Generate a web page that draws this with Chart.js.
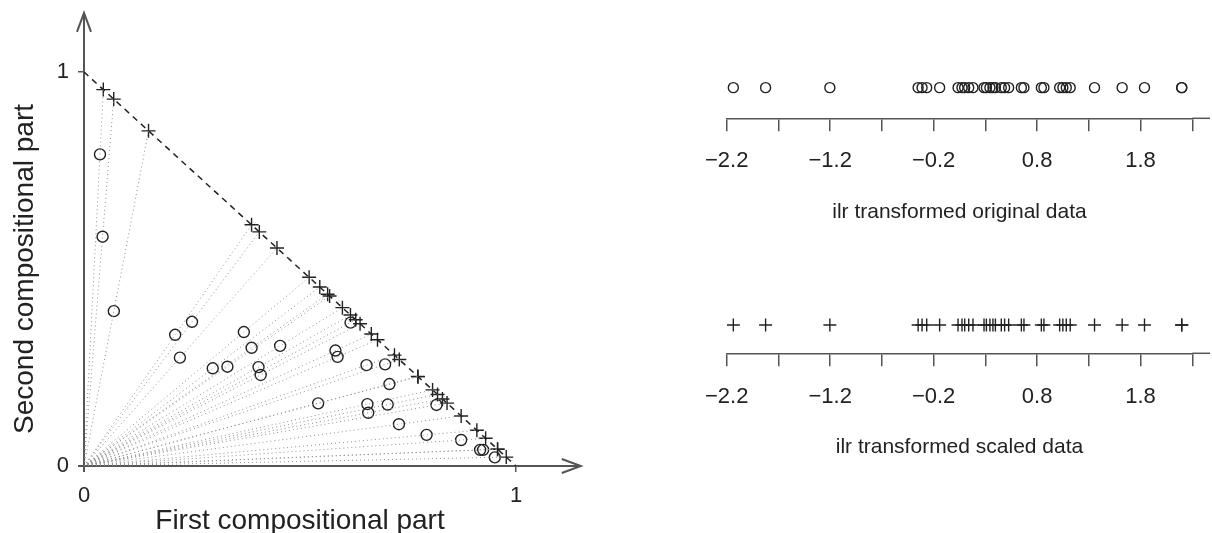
<!DOCTYPE html>
<html>
<head>
<meta charset="utf-8">
<script src="https://cdn.jsdelivr.net/npm/chart.js@4.4.0/dist/chart.umd.min.js"></script>
<style>
  html, body { margin: 0; padding: 0; background: #fff; }
  #wrap { position: relative; width: 1212px; height: 533px; overflow: hidden; }
  canvas { position: absolute; }
  #leftChart { left: 0; top: 0; }
  #topStrip { left: 640px; top: 0; }
  #bottomStrip { left: 640px; top: 250px; }
</style>
</head>
<body>
<div id="wrap">
  <canvas id="leftChart" width="620" height="533"></canvas>
  <canvas id="topStrip" width="572" height="250"></canvas>
  <canvas id="bottomStrip" width="572" height="283"></canvas>
</div>
<script>
// Section: data

// original two-part data (circles)
const firstPart = [0.037, 0.043, 0.069, 0.250, 0.211, 0.222, 0.298, 0.332, 0.370, 0.388,
  0.404, 0.409, 0.454, 0.542, 0.582, 0.587, 0.617, 0.654, 0.697, 0.707,
  0.656, 0.658, 0.703, 0.729, 0.793, 0.816, 0.873, 0.917, 0.924, 0.951];
const secondPart = [0.791, 0.582, 0.393, 0.366, 0.333, 0.275, 0.248, 0.252, 0.340, 0.300,
  0.251, 0.231, 0.305, 0.159, 0.293, 0.277, 0.364, 0.256, 0.258, 0.208,
  0.157, 0.135, 0.156, 0.106, 0.079, 0.155, 0.066, 0.041, 0.041, 0.022];

// ilr coordinates shown in the two strips
const ilrOriginal = [-2.136, -1.824, -1.203, -0.350, -0.312, -0.267, -0.142, 0.036, 0.074, 0.100,
  0.139, 0.180, 0.287, 0.310, 0.344, 0.373, 0.397, 0.454, 0.486, 0.525,
  0.648, 0.673, 0.841, 0.866, 1.018, 1.049, 1.082, 1.120, 1.355, 1.622,
  1.838, 2.198, 2.198];
const ilrScaled = [-2.136, -1.824, -1.203, -0.350, -0.312, -0.267, -0.142, 0.036, 0.074, 0.100,
  0.139, 0.180, 0.287, 0.310, 0.344, 0.373, 0.397, 0.454, 0.486, 0.525,
  0.648, 0.673, 0.841, 0.866, 1.018, 1.049, 1.082, 1.120, 1.355, 1.622,
  1.838, 2.198, 2.198];

const axisTicks = [0, 1];
const stripTicks = [-2.2, -1.7, -1.2, -0.7, -0.2, 0.3, 0.8, 1.3, 1.8, 2.3];
const stripLabels = ["\u22122.2", "", "\u22121.2", "", "\u22120.2", "", "0.8", "", "1.8", ""];

const FONT = "'Liberation Sans', Arial, Helvetica, sans-serif";
const INK = "#222";
const ARROW_REACH = 1.15; // axes run a bit past 1 and end in an arrow

// Section: left panel

// scaled data: each point closed so the two parts sum to 1
const scaledPoints = firstPart.map((a, i) => {
  const s = a + secondPart[i];
  return { x: a / s, y: secondPart[i] / s };
});

const rays = scaledPoints.map((p) => ({
  data: [{ x: axisTicks[0], y: axisTicks[0] }, p],
  showLine: true,
  borderColor: "#8f8f8f",
  borderWidth: 1,
  borderDash: [1, 3],
  pointRadius: 0,
}));

const arrowAxes = {
  id: "arrowAxes",
  beforeDatasetsDraw(chart) {
    const { ctx, scales } = chart;
    const x0 = scales.x.getPixelForValue(0);
    const y0 = scales.y.getPixelForValue(0);
    const xEnd = scales.x.getPixelForValue(ARROW_REACH);
    const yEnd = scales.y.getPixelForValue(ARROW_REACH);
    ctx.save();
    ctx.strokeStyle = "#555";
    ctx.lineWidth = 2;
    ctx.beginPath();
    ctx.moveTo(x0 - 6, y0);
    ctx.lineTo(xEnd, y0);
    ctx.moveTo(x0, y0 + 6);
    ctx.lineTo(x0, yEnd);
    ctx.moveTo(xEnd - 19, y0 - 7);
    ctx.lineTo(xEnd, y0);
    ctx.lineTo(xEnd - 19, y0 + 7);
    ctx.moveTo(x0 - 7, yEnd + 19);
    ctx.lineTo(x0, yEnd);
    ctx.lineTo(x0 + 7, yEnd + 19);
    ctx.stroke();
    ctx.restore();
  },
};

function fixedTicks(scale) {
  scale.ticks = axisTicks.map((v) => ({ value: v }));
}

new Chart(document.getElementById("leftChart"), {
  type: "scatter",
  data: {
    datasets: [
      ...rays,
      {
        data: [{ x: axisTicks[0], y: axisTicks[1] }, { x: axisTicks[1], y: axisTicks[0] }],
        showLine: true,
        borderColor: INK,
        borderWidth: 1.5,
        borderDash: [6, 5],
        pointRadius: 0,
      },
      {
        data: firstPart.map((a, i) => ({ x: a, y: secondPart[i] })),
        pointStyle: "circle",
        pointRadius: 5.5,
        borderWidth: 1.4,
        borderColor: INK,
        backgroundColor: "rgba(0,0,0,0)",
        clip: false,
      },
      {
        data: scaledPoints,
        pointStyle: "cross",
        pointRadius: 7,
        borderWidth: 1.4,
        borderColor: INK,
        clip: false,
      },
    ],
  },
  options: {
    responsive: false,
    animation: false,
    layout: { padding: { top: 72, right: 104, left: 0, bottom: 0 } },
    plugins: { legend: { display: false }, tooltip: { enabled: false } },
    scales: {
      x: {
        type: "linear",
        min: 0,
        max: 1,
        afterBuildTicks: fixedTicks,
        afterFit: (s) => { s.height = 67; },
        border: { display: false },
        grid: { drawOnChartArea: false, tickLength: 6, color: "#555", lineWidth: 1.5 },
        ticks: { color: INK, font: { family: FONT, size: 22 }, padding: 11, maxRotation: 0 },
        title: {
          display: true,
          text: "First compositional part",
          color: INK,
          font: { family: FONT, size: 28, lineHeight: 1 },
          padding: { top: 0, bottom: -2 },
        },
      },
      y: {
        type: "linear",
        min: 0,
        max: 1,
        afterBuildTicks: fixedTicks,
        afterFit: (s) => { s.width = 84; },
        border: { display: false },
        grid: { drawOnChartArea: false, tickLength: 6, color: "#555", lineWidth: 1.5 },
        ticks: { color: INK, font: { family: FONT, size: 22 }, padding: 9 },
        title: {
          display: true,
          text: "Second compositional part",
          color: INK,
          font: { family: FONT, size: 28, lineHeight: 1 },
          padding: { top: 11, bottom: 0 },
        },
      },
    },
  },
  plugins: [arrowAxes],
});

// Section: right strips

// the strip axis line keeps going past the last tick up to the figure edge
const stripAxisRunOn = {
  id: "stripAxisRunOn",
  afterDraw(chart) {
    const { ctx, chartArea } = chart;
    ctx.save();
    ctx.strokeStyle = "#555";
    ctx.lineWidth = 1.5;
    ctx.beginPath();
    ctx.moveTo(chartArea.right, chartArea.bottom);
    ctx.lineTo(chart.width - 2, chartArea.bottom);
    ctx.stroke();
    ctx.restore();
  },
};

function makeStrip(id, values, style, radius, title, padTop, axisHeight, labelPad, titlePad) {
  new Chart(document.getElementById(id), {
    type: "scatter",
    data: {
      datasets: [{
        data: values.map((v) => ({ x: v, y: 0.5 })),
        pointStyle: style,
        pointRadius: radius,
        borderWidth: 1.4,
        borderColor: INK,
        backgroundColor: "rgba(0,0,0,0)",
      }],
    },
    options: {
      responsive: false,
      animation: false,
      layout: { padding: { top: padTop, left: 86.7, right: 19.7, bottom: 0 } },
      plugins: { legend: { display: false }, tooltip: { enabled: false } },
      scales: {
        x: {
          type: "linear",
          min: stripTicks[0],
          max: stripTicks[stripTicks.length - 1],
          afterBuildTicks: (s) => { s.ticks = stripTicks.map((v) => ({ value: v })); },
          afterFit: (s) => { s.height = axisHeight; },
          border: { display: true, color: "#555", width: 1.5 },
          grid: { drawOnChartArea: false, tickLength: 13, color: "#555", lineWidth: 1.5 },
          ticks: {
            color: INK,
            font: { family: FONT, size: 22 },
            padding: labelPad,
            maxRotation: 0,
            autoSkip: false,
            callback: (v, i) => stripLabels[i],
          },
          title: {
            display: true,
            text: title,
            color: INK,
            font: { family: FONT, size: 21, lineHeight: 1 },
            padding: { top: 0, bottom: titlePad },
          },
        },
        y: { display: false, min: 0, max: 1 },
      },
    },
    plugins: [stripAxisRunOn],
  });
}

makeStrip("topStrip", ilrOriginal, "circle", 5, "ilr transformed original data", 57, 131.7, 16, 27.5);
makeStrip("bottomStrip", ilrScaled, "cross", 6.5, "ilr transformed scaled data", 46.7, 179.7, 17, 75.5);
</script>
</body>
</html>
